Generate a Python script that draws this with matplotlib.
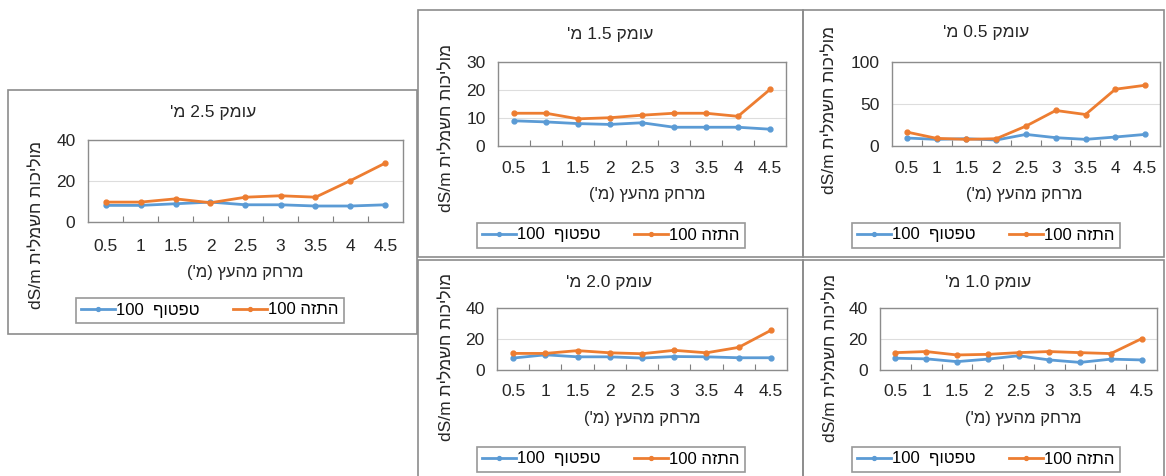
import matplotlib
matplotlib.use("Agg")
import matplotlib.pyplot as plt
from matplotlib.patches import Rectangle
from matplotlib.ticker import FixedLocator

plt.rcParams['font.family'] = ['Liberation Sans', 'DejaVu Sans']

# distance from tree (m)
dist = ['0.5', '1', '1.5', '2', '2.5', '3', '3.5', '4', '4.5']

# electrical conductivity dS/m, per depth
drip_05 = [9.5, 7.9, 8.7, 7.1, 13.8, 9.9, 7.9, 10.7, 13.8]
sprink_05 = [16.6, 9.1, 7.9, 8.7, 23.7, 42.3, 37.5, 67.6, 72.3]

drip_10 = [7.6, 7.2, 5.4, 7.0, 9.2, 6.5, 4.9, 7.0, 6.5]
sprink_10 = [11.2, 11.9, 9.7, 10.1, 11.2, 11.9, 11.2, 10.6, 20.2]

drip_15 = [9.0, 8.6, 8.0, 7.7, 8.3, 6.7, 6.7, 6.7, 6.0]
sprink_15 = [11.7, 11.7, 9.7, 10.1, 11.0, 11.7, 11.7, 10.6, 20.2]

drip_20 = [7.7, 9.8, 8.5, 8.5, 7.7, 8.7, 8.5, 7.9, 7.9]
sprink_20 = [10.7, 10.7, 12.5, 11.1, 10.5, 12.7, 11.1, 14.6, 25.6]

drip_25 = [8.1, 8.1, 8.9, 9.7, 8.4, 8.4, 7.8, 7.8, 8.4]
sprink_25 = [9.7, 9.7, 11.3, 9.4, 12.1, 12.8, 12.1, 20.2, 28.8]

# hebrew strings written in visual (left to right) order
titles = {
    '0.5': "'מ 0.5 קמוע",
    '1.0': "'מ 1.0 קמוע",
    '1.5': "'מ 1.5 קמוע",
    '2.0': "'מ 2.0 קמוע",
    '2.5': "'מ 2.5 קמוע",
}
xlab = "('מ) ץעהמ קחרמ"
ylab = "dS/m תילמשח תוכילומ"
lab_drip = "100  ףוטפט"
lab_sprink = "100 הזתה"

BLUE = '#5B9BD5'
ORANGE = '#ED7D31'
W, H = 1166, 476

fig = plt.figure(figsize=(W / 100, H / 100), dpi=100)


def fx(x):
    return x / W


def fy(y):
    return 1 - y / H


def box(x0, y0, x1, y1):
    fig.add_artist(Rectangle((fx(x0), fy(y1)), fx(x1) - fx(x0), fy(y0) - fy(y1),
                             transform=fig.transFigure, fill=False,
                             edgecolor='#8C8C8C', lw=1.2))


def panel(key, drip, sprink, ymax, ystep, ax_px, title_xy, xlab_xy, ylab_xy,
          leg_xy, tick_y):
    x0, y0, x1, y1 = ax_px
    ax = fig.add_axes([fx(x0), fy(y1), fx(x1) - fx(x0), fy(y0) - fy(y1)])
    xs = range(len(dist))
    ax.plot(xs, drip, color=BLUE, lw=2, marker='o', ms=3.5, label=lab_drip)
    ax.plot(xs, sprink, color=ORANGE, lw=2, marker='o', ms=3.5, label=lab_sprink)
    ax.set_xlim(-0.5, len(dist) - 0.5)
    ax.set_ylim(0, ymax)
    ax.set_yticks(range(0, ymax + 1, ystep))
    ax.set_xticks(list(xs))
    ax.set_xticklabels(dist)
    ax.xaxis.set_minor_locator(FixedLocator([i + 0.5 for i in range(len(dist) - 1)]))
    ax.tick_params(axis='x', which='major', length=0, labelsize=12.5,
                   pad=(tick_y - y1 - 9) * 0.72, labelcolor='#262626')
    ax.tick_params(axis='x', which='minor', direction='in', length=4,
                   color='#7F7F7F', width=0.8)
    ax.tick_params(axis='y', length=0, labelsize=12.5, pad=9, labelcolor='#262626')
    ax.yaxis.grid(True, color='#DDDDDD', lw=0.8)
    ax.set_axisbelow(True)
    for s in ax.spines.values():
        s.set_color('#8C8C8C')
        s.set_linewidth(1)
    fig.text(fx(title_xy[0]), fy(title_xy[1]), titles[key], ha='center',
             va='center', fontsize=12.5, color='#262626')
    fig.text(fx(xlab_xy[0]), fy(xlab_xy[1]), xlab, ha='center', va='center',
             fontsize=12, color='#262626')
    fig.text(fx(ylab_xy[0]), fy(ylab_xy[1]), ylab, ha='center', va='center',
             rotation=90, fontsize=12.5, color='#262626')
    leg = ax.legend(loc='center', bbox_to_anchor=(fx(leg_xy[0]), fy(leg_xy[1])),
                    bbox_transform=fig.transFigure, ncol=2, fontsize=12,
                    fancybox=False, edgecolor='#7F7F7F', handlelength=2.0,
                    handletextpad=0.1, columnspacing=2.0, borderpad=0.3,
                    markerscale=0.8)
    leg.get_frame().set_linewidth(1.2)
    return ax


# panel frames
box(8, 90, 417, 334)
box(418, 10, 803, 257)
box(803, 10, 1164, 257)
box(418, 260, 803, 480)
box(803, 260, 1164, 480)

panel('2.5', drip_25, sprink_25, 40, 20, (88, 140, 403, 222), (213, 112),
      (245, 272), (37, 225), (210, 310), 248)
panel('1.5', drip_15, sprink_15, 30, 10, (498, 62, 786, 146), (610, 35),
      (647, 195), (447, 128), (611, 235), 170)
panel('0.5', drip_05, sprink_05, 100, 50, (892, 62, 1160, 146), (986, 33),
      (1024, 195), (830, 110), (986, 235), 170)
panel('2.0', drip_20, sprink_20, 40, 20, (497, 308, 787, 370), (609, 282),
      (642, 418), (447, 357), (611, 459), 393)
panel('1.0', drip_10, sprink_10, 40, 20, (880, 308, 1157, 370), (988, 282),
      (1023, 418), (831, 358), (986, 459), 393)

fig.savefig('out.png', dpi=100)
